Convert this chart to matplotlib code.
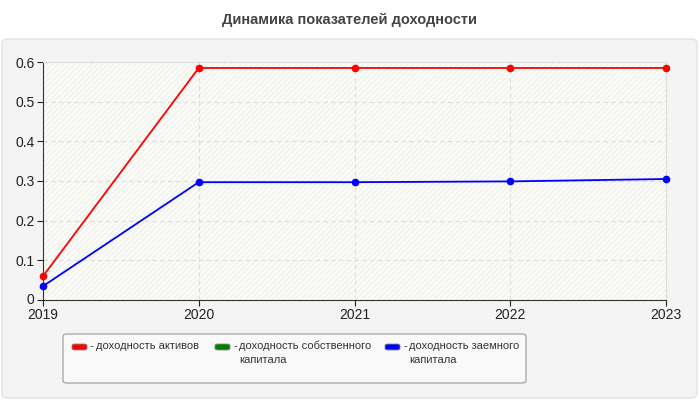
import matplotlib
matplotlib.use("Agg")
import matplotlib.pyplot as plt
import matplotlib.transforms as mtransforms
from matplotlib.patches import FancyBboxPatch, Rectangle

# data
years = [2019, 2020, 2021, 2022, 2023]
roa = [0.06, 0.585, 0.585, 0.585, 0.585]        # доходность активов
roe = []                                          # доходность собственного капитала (нет линии)
rod = [0.035, 0.297, 0.297, 0.299, 0.305]       # доходность заемного капитала

labels = ["доходность активов", "доходность собственного\nкапитала",
          "доходность заемного\nкапитала"]
colors = ["#ff0000", "#008000", "#0000ff"]
title = "Динамика показателей доходности"

plt.rcParams['font.family'] = ['Liberation Sans', 'DejaVu Sans']

fig = plt.figure(figsize=(7, 4), dpi=100)
fig.patch.set_facecolor("white")

# outer rounded panel
panel = FancyBboxPatch((2 / 700, 2 / 400), 695 / 700, 359 / 400,
                       boxstyle="round,pad=0,rounding_size=0.01",
                       transform=fig.transFigure, facecolor="#f4f4f4",
                       edgecolor="#e2e2e2", linewidth=1, zorder=-10)
fig.patches.append(panel)

fig.text(0.5, 1 - 20 / 400, title, ha="center", va="center",
         fontsize=10.5, fontweight="bold", color="#444444")

ax = fig.add_axes([43 / 700, 0.25, 623 / 700, 238 / 400])
ax.set_facecolor("#fcfcf7")
ax.add_patch(Rectangle((0, 0), 1, 1, transform=ax.transAxes, facecolor="none",
                       edgecolor="#f1f1f1", hatch="//////", linewidth=0, zorder=0))

for vals, c in [(roa, colors[0]), (roe, colors[1]), (rod, colors[2])]:
    if vals:
        ax.plot(years, vals, color=c, linewidth=1.3, marker="o", markersize=4.5,
                zorder=3, clip_on=False)

ax.set_xlim(2019, 2023)
ax.set_ylim(0, 0.6)
ax.set_xticks(years)
ax.set_yticks([0, 0.1, 0.2, 0.3, 0.4, 0.5, 0.6])
ax.set_yticklabels(["0", "0.1", "0.2", "0.3", "0.4", "0.5", "0.6"])
ax.grid(True, color="#dddddd", linestyle=(0, (4, 3)), linewidth=0.8)
ax.set_axisbelow(True)
ax.tick_params(labelsize=10, colors="#222222", length=4, width=0.8, pad=2)
ax.tick_params(axis="x", pad=1.5)
# nudge "0" up a little so it does not touch "2019"
lbl0 = ax.get_yticklabels()[0]
lbl0.set_transform(lbl0.get_transform() +
                   mtransforms.ScaledTranslation(0, 2 / 100, fig.dpi_scale_trans))
for s in ["top", "right"]:
    ax.spines[s].set_color("#dddddd")
for s in ["left", "bottom"]:
    ax.spines[s].set_color("#333333")
    ax.spines[s].set_linewidth(0.8)

# legend box
lb = FancyBboxPatch((63 / 700, 1 - 383 / 400), 463 / 700, 49 / 400,
                    boxstyle="round,pad=0,rounding_size=0.006",
                    transform=fig.transFigure, facecolor="#f9f9f9",
                    edgecolor="#aaaaaa", linewidth=1)
fig.patches.append(lb)
xs = [72, 215, 385]
for x0, lab, c in zip(xs, labels, colors):
    fig.patches.append(FancyBboxPatch((x0 / 700, 1 - 350 / 400), 15 / 700, 6 / 400,
                                      boxstyle="round,pad=0,rounding_size=0.004",
                                      transform=fig.transFigure, facecolor=c,
                                      edgecolor="#888888", linewidth=0.6))
    fig.text((x0 + 18) / 700, 1 - 341 / 400, "-", ha="left", va="top",
             fontsize=8, color="#333333")
    fig.text((x0 + 24) / 700, 1 - 341 / 400, lab, ha="left", va="top",
             fontsize=8, color="#333333", linespacing=1.45)

fig.savefig("out.png", dpi=100, facecolor=fig.get_facecolor())
